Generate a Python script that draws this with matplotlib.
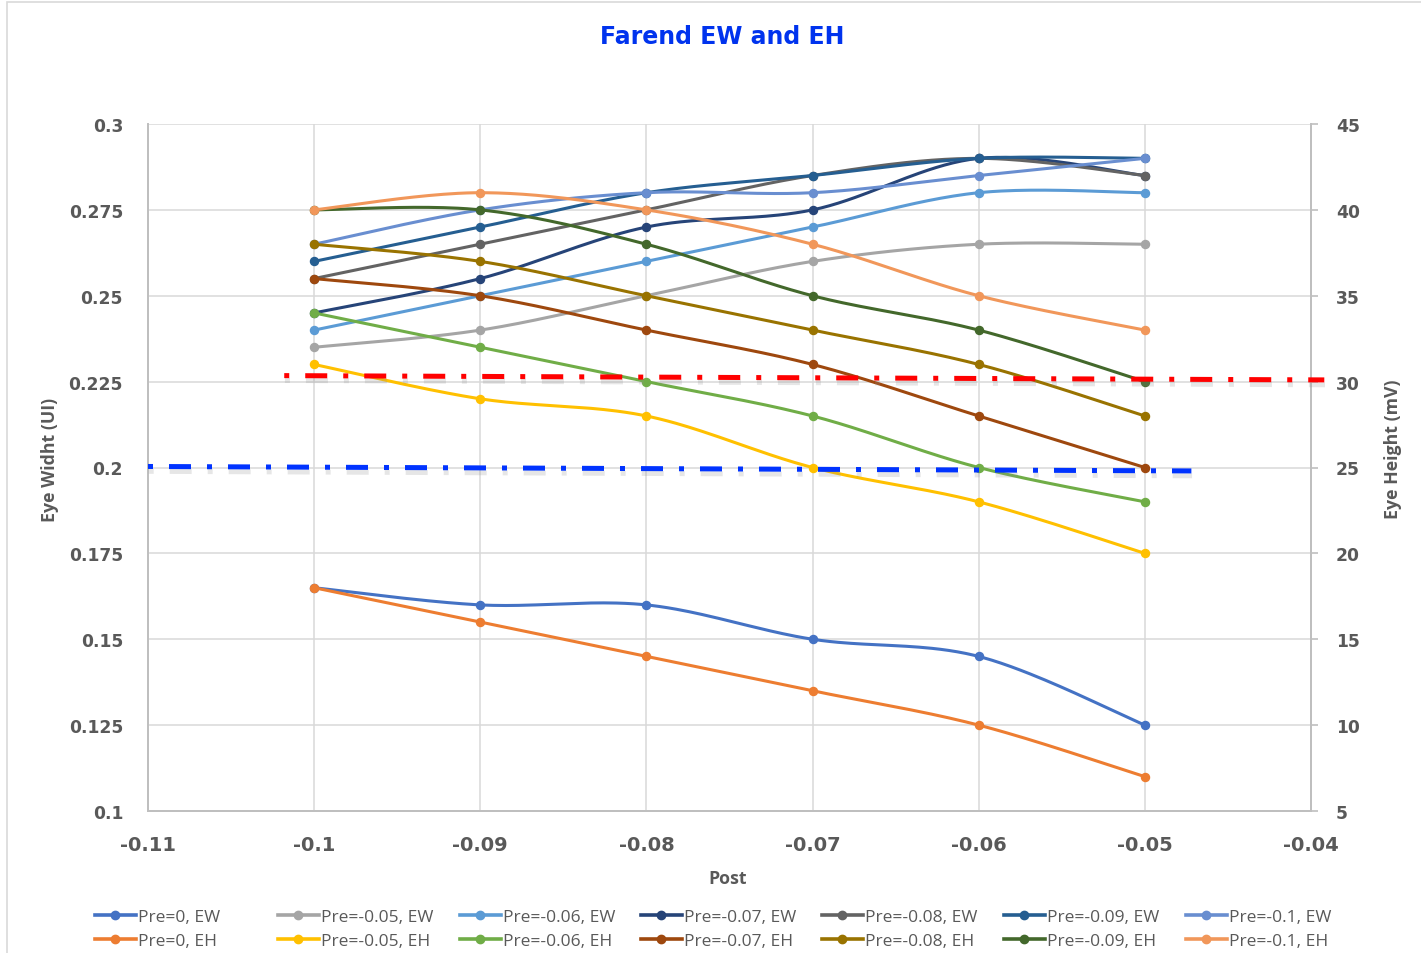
import numpy as np
import matplotlib
matplotlib.use('Agg')
import matplotlib.pyplot as plt
import matplotlib.patheffects as pe
from matplotlib.patches import Rectangle

# Post tap values (x axis)
post = [-0.1, -0.09, -0.08, -0.07, -0.06, -0.05]

pre_labels = ['Pre=0', 'Pre=-0.05', 'Pre=-0.06', 'Pre=-0.07', 'Pre=-0.08', 'Pre=-0.09', 'Pre=-0.1']

# Eye width (UI), left axis
ew_pre0 = [0.165, 0.160, 0.160, 0.150, 0.145, 0.125]
ew_pre005 = [0.235, 0.240, 0.250, 0.260, 0.265, 0.265]
ew_pre006 = [0.240, 0.250, 0.260, 0.270, 0.280, 0.280]
ew_pre007 = [0.245, 0.255, 0.270, 0.275, 0.290, 0.285]
ew_pre008 = [0.255, 0.265, 0.275, 0.285, 0.290, 0.285]
ew_pre009 = [0.260, 0.270, 0.280, 0.285, 0.290, 0.290]
ew_pre010 = [0.265, 0.275, 0.280, 0.280, 0.285, 0.290]

# Eye height (mV), right axis
eh_pre0 = [18, 16, 14, 12, 10, 7]
eh_pre005 = [31, 29, 28, 25, 23, 20]
eh_pre006 = [34, 32, 30, 28, 25, 23]
eh_pre007 = [36, 35, 33, 31, 28, 25]
eh_pre008 = [38, 37, 35, 33, 31, 28]
eh_pre009 = [40, 40, 38, 35, 33, 30]
eh_pre010 = [40, 41, 40, 38, 35, 33]

ew_colors = ['#4472C4', '#A5A5A5', '#5B9BD5', '#264478', '#636363', '#255E91', '#698ED0']
eh_colors = ['#ED7D31', '#FFC000', '#70AD47', '#9E480E', '#997300', '#43682B', '#F1975A']

# hand-drawn spec limit lines (start/end)
eh_limit_x = [-0.1018, -0.0392]
eh_limit_y = [30.35, 30.1]
ew_limit_x = [-0.11, -0.0472]
ew_limit_y = [0.2003, 0.1990]

ew_all = [ew_pre0, ew_pre005, ew_pre006, ew_pre007, ew_pre008, ew_pre009, ew_pre010]
eh_all = [eh_pre0, eh_pre005, eh_pre006, eh_pre007, eh_pre008, eh_pre009, eh_pre010]

W, H = 1421, 954
TXT = '#595959'


def smooth(xs, ys, n=40):
    # Catmull-Rom style curve like Excel's "smoothed line"
    p = np.column_stack([xs, ys]).astype(float)
    pts = np.vstack([p[0], p, p[-1]])
    t = np.linspace(0, 1, n)[:, None]
    h00 = 2 * t**3 - 3 * t**2 + 1
    h10 = t**3 - 2 * t**2 + t
    h01 = -2 * t**3 + 3 * t**2
    h11 = t**3 - t**2
    segs = []
    for i in range(1, len(pts) - 2):
        p0, p1, p2, p3 = pts[i - 1], pts[i], pts[i + 1], pts[i + 2]
        m1 = (p2 - p0) / 2
        m2 = (p3 - p1) / 2
        segs.append(h00 * p1 + h10 * m1 + h01 * p2 + h11 * m2)
    c = np.vstack(segs)
    return c[:, 0], c[:, 1]


fig = plt.figure(figsize=(W / 100, H / 100), dpi=100)
fig.patches.append(Rectangle((7 / W, -0.01), 1.0, 1 - 3 / H + 0.01, transform=fig.transFigure,
                             fill=False, edgecolor='#D9D9D9', linewidth=1.2))

ax = fig.add_axes([148 / W, 1 - 812 / H, (1311 - 148) / W, (812 - 125) / H])
ax2 = ax.twinx()

ax.set_xlim(-0.11, -0.04)
ax.set_ylim(0.1, 0.3)
ax2.set_ylim(5, 45)
ax.set_xticks(np.arange(-0.11, -0.0399, 0.01))
ax.set_xticklabels(['-0.11', '-0.1', '-0.09', '-0.08', '-0.07', '-0.06', '-0.05', '-0.04'])
ax.set_yticks(np.arange(0.1, 0.3001, 0.025))
ax.set_yticklabels(['0.1', '0.125', '0.15', '0.175', '0.2', '0.225', '0.25', '0.275', '0.3'])
ax2.set_yticks(np.arange(5, 46, 5))

ax.grid(True, color='#D9D9D9', linewidth=1.1)
ax.set_axisbelow(True)
for a in (ax, ax2):
    for s in a.spines.values():
        s.set_color('#BFBFBF')
        s.set_linewidth(1.3)
    a.spines['top'].set_visible(False)

ax.tick_params(axis='x', length=0, pad=17, labelsize=14, labelcolor=TXT)
ax.tick_params(axis='y', length=0, pad=18, labelsize=12.3, labelcolor=TXT)
ax2.tick_params(axis='y', length=5, width=1.2, color='#BFBFBF', pad=13, labelsize=12.3, labelcolor=TXT)
for lab in ax.get_xticklabels() + ax.get_yticklabels() + ax2.get_yticklabels():
    lab.set_fontweight('bold')

ew_lines, eh_lines = [], []
for i in range(len(pre_labels)):
    sx, sy = smooth(post, ew_all[i])
    ax.plot(sx, sy, color=ew_colors[i], lw=2.2, solid_capstyle='round')
    ax.plot(post, ew_all[i], 'o', color=ew_colors[i], ms=5.8)
    ew_lines.append(plt.Line2D([], [], color=ew_colors[i], lw=2.6, marker='o', ms=6,
                               label=f'{pre_labels[i]}, EW'))
for i in range(len(pre_labels)):
    sx, sy = smooth(post, eh_all[i])
    ax2.plot(sx, sy, color=eh_colors[i], lw=2.2, solid_capstyle='round')
    ax2.plot(post, eh_all[i], 'o', color=eh_colors[i], ms=5.8)
    eh_lines.append(plt.Line2D([], [], color=eh_colors[i], lw=2.6, marker='o', ms=6,
                               label=f'{pre_labels[i]}, EH'))

shadow = [pe.SimpleLineShadow(offset=(0.5, -3.5), shadow_color='#909090', alpha=0.22), pe.Normal()]
ax2.plot(eh_limit_x, eh_limit_y, color='#FF0000', lw=3.6, dashes=(1, 3.2, 4.4, 3.2),
         dash_capstyle='butt', clip_on=False, path_effects=shadow, zorder=5)
ax2.plot(ew_limit_x, ew_limit_y, color='#0033FF', lw=3.6, dashes=(1, 3.2, 4.4, 3.2),
         dash_capstyle='butt', clip_on=False, path_effects=shadow, zorder=5,
         transform=ax.transData)

fig.text(722 / W, 1 - 37 / H, 'Farend EW and EH', color='#0033EE', fontsize=17,
         fontweight='bold', ha='center', va='center')
fig.text(50 / W, 1 - 460 / H, 'Eye Widht (UI)', rotation=90, color=TXT, fontsize=12.8,
         fontweight='bold', family='Open Sans', ha='center', va='center')
fig.text(1393 / W, 1 - 449 / H, 'Eye Height (mV)', rotation=90, color=TXT, fontsize=12.8,
         fontweight='bold', family='Open Sans', ha='center', va='center')
fig.text(728 / W, 1 - 879 / H, 'Post', color=TXT, fontsize=12.8,
         fontweight='bold', family='Open Sans', ha='center', va='center')

col_x = [95, 278, 460, 641, 822, 1004, 1186]
for i, x0 in enumerate(col_x):
    leg = fig.legend(handles=[ew_lines[i], eh_lines[i]], loc='upper left',
                     bbox_to_anchor=(x0 / W, 1 - 910 / H), frameon=False,
                     handlelength=2.35, handletextpad=0.15, labelspacing=0.47,
                     borderpad=0, borderaxespad=0,
                     prop={'family': 'Open Sans', 'size': 12.5})
    for t in leg.get_texts():
        t.set_color(TXT)

fig.savefig('out.png', dpi=100)
